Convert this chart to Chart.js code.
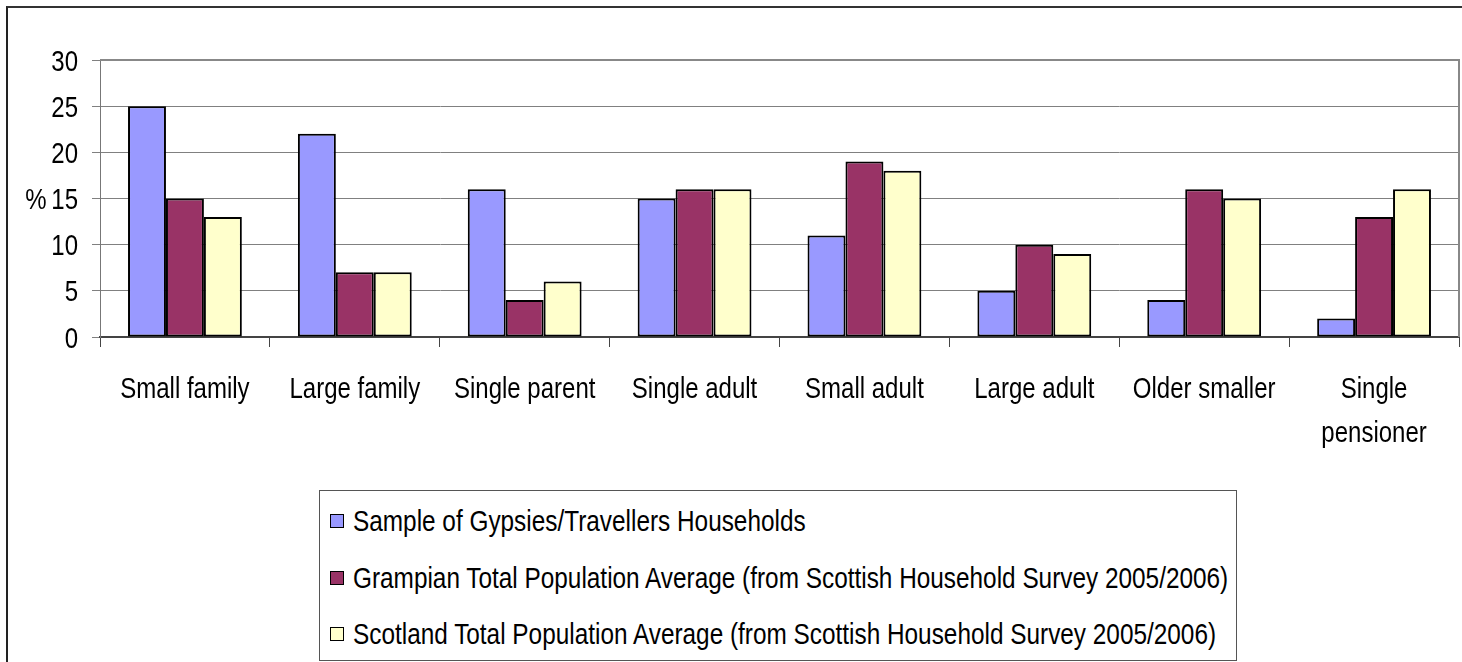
<!DOCTYPE html>
<html><head><meta charset="utf-8">
<script src="https://cdn.jsdelivr.net/npm/chart.js@4.4.1/dist/chart.umd.min.js"></script>
<style>
html,body{margin:0;padding:0;background:#fff;overflow:hidden}
#wrap{position:relative;width:1462px;height:662px;overflow:hidden}
#frame{position:absolute;left:6px;top:6px;width:1500px;height:700px;border-left:2px solid #222;border-top:2px solid #333;pointer-events:none}
#c{position:absolute;left:0;top:0}
#legend{position:absolute;left:319px;top:490px;width:918px;height:171px;border:1px solid #555;box-sizing:border-box;background:#fff;
 font-family:"Liberation Sans",Arial,sans-serif;font-size:30px;color:#000;padding-top:2px;overflow:hidden}
.row{height:56.5px;display:flex;align-items:center;white-space:nowrap}
.sw{width:12px;height:12px;border:1px solid #000;margin-left:10px;margin-right:9px;flex:none}
.tx{display:inline-block;transform:scaleX(0.812);transform-origin:0 50%}
</style></head>
<body>
<div id="wrap">
<canvas id="c" width="1462" height="662"></canvas>
<div id="frame"></div>
<div id="legend"></div>
</div>
<script>
const categories = ["Small family","Large family","Single parent","Single adult","Small adult","Large adult","Older smaller",["Single","pensioner"]];
const seriesNames = ["Sample of Gypsies/Travellers Households",
  "Grampian Total Population Average (from Scottish Household Survey 2005/2006)",
  "Scotland Total Population Average (from Scottish Household Survey 2005/2006)"];
const gypsiesTravellers = [25,22,16,15,11,5,4,2];
const grampianAverage = [15,7,4,16,19,10,16,13];
const scotlandAverage = [13,7,6,16,18,9,15,16];
const yTicks = [0,5,10,15,20,25,30];
const yAxisLabel = "%";

const FONT = '"Liberation Sans",Arial,sans-serif';
const FSIZE = 30, SX = 0.8;
const colors = ["#9999FF","#993366","#FFFFCC"];
const values = [gypsiesTravellers, grampianAverage, scotlandAverage];

function narrowText(ctx, text, x, y, align){
  ctx.save();
  ctx.translate(x, y);
  ctx.scale(SX, 1);
  ctx.textAlign = align;
  ctx.textBaseline = 'alphabetic';
  ctx.fillText(text, 0, 0);
  ctx.restore();
}

const labelsAndBorder = {
  id:'labelsAndBorder',
  afterDraw(chart){
    const {ctx, chartArea:a, scales} = chart;
    ctx.save();
    ctx.strokeStyle = '#888'; ctx.lineWidth = 2;
    ctx.beginPath();
    ctx.moveTo(a.left, a.top); ctx.lineTo(a.right, a.top); ctx.lineTo(a.right, a.bottom);
    ctx.stroke();
    ctx.fillStyle = '#000';
    ctx.font = FSIZE + 'px ' + FONT;
    scales.y.ticks.forEach(t=>{
      const y = scales.y.getPixelForValue(t.value);
      narrowText(ctx, String(t.value), a.left - 22, y + 10.5, 'right');
    });
    narrowText(ctx, yAxisLabel, 36, scales.y.getPixelForValue(15) + 10.5, 'center');
    scales.x.ticks.forEach((t,i)=>{
      const x = scales.x.getPixelForTick(i);
      const lab = chart.data.labels[i];
      const lines = Array.isArray(lab) ? lab : [lab];
      lines.forEach((ln,k)=> narrowText(ctx, ln, x, a.bottom + 61 + k*44, 'center'));
    });
    ctx.restore();
  }
};

const chart = new Chart(document.getElementById('c'), {
  type:'bar',
  data:{
    labels: categories,
    datasets: seriesNames.map((n,i)=>({
      label:n, data:values[i], backgroundColor:colors[i], borderColor:'#000', borderWidth:2,
      borderSkipped:false, categoryPercentage:0.67, barPercentage:1.0
    }))
  },
  options:{
    responsive:false, animation:false,
    layout:{padding:{top:60,left:0,right:3,bottom:0}},
    plugins:{legend:{display:false}, tooltip:{enabled:false}},
    scales:{
      x:{
        offset:true,
        grid:{display:true, offset:true, drawOnChartArea:false, tickLength:10, color:'#444', lineWidth:1},
        border:{display:true, color:'#444', width:2},
        ticks:{display:false, autoSkip:false},
        afterFit(s){ s.height = 325; }
      },
      y:{
        min:0, max:30,
        afterBuildTicks(s){ s.ticks = yTicks.map(v=>({value:v})); },
        grid:{color:'#808080', lineWidth:1, tickLength:8},
        border:{display:true, color:'#777', width:1},
        ticks:{display:false},
        afterFit(s){ s.width = 100; }
      }
    }
  },
  plugins:[labelsAndBorder]
});

const lg = document.getElementById('legend');
chart.data.datasets.forEach(ds=>{
  const r = document.createElement('div'); r.className='row';
  const sw = document.createElement('span'); sw.className='sw'; sw.style.background = ds.backgroundColor;
  const t = document.createElement('span'); t.className='tx'; t.textContent = ds.label;
  r.appendChild(sw); r.appendChild(t); lg.appendChild(r);
});
</script>
</body></html>
